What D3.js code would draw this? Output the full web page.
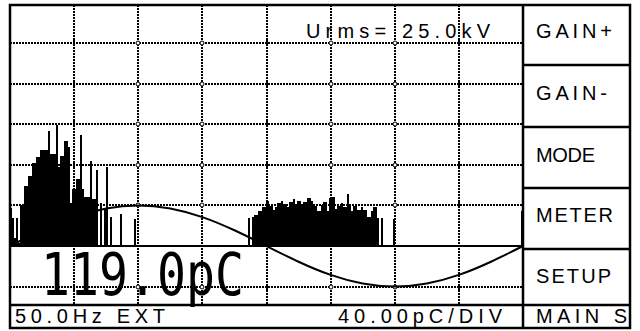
<!DOCTYPE html>
<html>
<head>
<meta charset="utf-8">
<script src="https://cdn.jsdelivr.net/npm/d3@7"></script>
<style>
  html, body { margin: 0; padding: 0; background: #fff; }
  svg { display: block; }
  text { font-family: "Liberation Sans", Arial, sans-serif; fill: #000; }
</style>
</head>
<body>
<svg id="scope" width="640" height="331"></svg>
<script>
// Phase-resolved partial discharge display: 256 phase bins over one 360° cycle.
const binCount = 256;

// Pulse magnitudes (pC) per phase bin, first cluster starting at bin 0
const clusterAStart = 0;
const clusterA = [37, 28, 8, 28, 3, 40, 40, 59, 59, 69, 69, 82, 82, 88, 88, 95,
  95, 95, 95, 113, 91, 91, 91, 119.0, 78, 89, 89, 103, 103, 98, 42, 56,
  56, 66, 66, 109, 56, 48, 48, 48, 84, 46, 46, 75, 0, 42, 0, 37,
  78, 0, 29, 0, 0, 0, 0, 32, 0, 0, 0, 0, 0, 0, 27];

// Second cluster (negative half-cycle), starting at bin 119
const clusterBStart = 119;
const clusterB = [28, 0, 29, 31, 31, 34, 34, 38, 38, 44, 39, 39, 35, 38, 42, 42,
  44, 41, 41, 38, 43, 43, 46, 39, 44, 44, 40, 43, 43, 47, 47, 44,
  39, 39, 34, 34, 40, 43, 43, 34, 47, 48, 48, 36, 39, 39, 42, 38,
  38, 51, 39, 34, 39, 39, 35, 35, 38, 35, 35, 29, 29, 34, 38, 38,
  28, 0, 28, 0, 0, 0, 0, 0, 27];

// Isolated pulse at the end of the cycle
const edgeBins = [255];
const edgeValues = [34];

// Reference voltage trace, sampled every 22.5° (in display pC units, 1 div = 40)
const sinePhases = d3.range(0, 360.1, 22.5);
const sineValues = [0, 15.5, 28.5, 37, 40, 37, 28.5, 15.5, 0,
  -15.5, -28.5, -37, -40, -37, -28.5, -15.5, 0];

// Grid divisions
const phaseGrid = [45, 90, 135, 180, 225, 270, 315];
const phaseMarks = ["tick", "ring", "ring", "tick", "ring", "ring", "tick"];
const chargeGrid = [200, 160, 120, 80, 40, -40];

// Readouts and soft keys
const peakReadout = "119.0pC";
const voltageReadout = "Urms= 25.0kV";
const freqReadout = "50.0Hz EXT";
const scaleReadout = "40.00pC/DIV";
const menuKeys = ["GAIN+", "GAIN-", "MODE", "METER", "SETUP", "MAIN S"];

// ---- layout ----
const L = 10, T = 5, R = 630, B = 328;
const plotRight = 523;
const statusTop = 305;
const keyRows = [T, 65, 127, 188, 249, statusTop, B];

const svg = d3.select("#scope");

const x = d3.scaleLinear().domain([0, 360]).range([L, plotRight]);
const y = d3.scaleLinear().domain([0, 240]).range([246, 2.4]);
const binW = 360 / binCount;

// collect bins
const bins = [];
clusterA.forEach((v, i) => bins.push({ bin: clusterAStart + i, pc: v }));
clusterB.forEach((v, i) => bins.push({ bin: clusterBStart + i, pc: v }));
edgeBins.forEach((b, i) => bins.push({ bin: b, pc: edgeValues[i] }));

svg.append("rect").attr("width", 640).attr("height", 331).attr("fill", "#fff");

// dotted grid
const grid = svg.append("g")
  .attr("stroke", "#000").attr("stroke-width", 2)
  .attr("stroke-dasharray", "2,1").attr("shape-rendering", "crispEdges");

grid.selectAll("line.v").data(phaseGrid).join("line")
  .attr("class", "v")
  .attr("x1", d => Math.round(x(d))).attr("x2", d => Math.round(x(d)))
  .attr("y1", T).attr("y2", statusTop);

grid.selectAll("line.h").data(chargeGrid).join("line")
  .attr("class", "h")
  .attr("x1", L).attr("x2", plotRight)
  .attr("y1", d => Math.round(y(d))).attr("y2", d => Math.round(y(d)));

// intersection markers
const marks = svg.append("g");
phaseGrid.forEach((p, i) => {
  chargeGrid.forEach(c => {
    const cx = Math.round(x(p)), cy = Math.round(y(c));
    if (phaseMarks[i] === "tick") {
      marks.append("line")
        .attr("x1", cx).attr("x2", cx).attr("y1", cy - 3).attr("y2", cy + 3)
        .attr("stroke", "#000").attr("stroke-width", 2)
        .attr("shape-rendering", "crispEdges");
    } else {
      marks.append("circle")
        .attr("cx", cx).attr("cy", cy).attr("r", 2)
        .attr("fill", "#fff").attr("stroke", "#000").attr("stroke-width", 1);
    }
  });
});

// zero line
svg.append("line")
  .attr("x1", L).attr("x2", plotRight)
  .attr("y1", y(0)).attr("y2", y(0))
  .attr("stroke", "#000").attr("stroke-width", 2);

// pulse bars, snapped to whole pixels so adjacent bins join up
const bx0 = d => Math.round(x(d.bin * binW));
const bx1 = d => Math.round(x((d.bin + 1) * binW));
svg.append("g").attr("shape-rendering", "crispEdges")
  .selectAll("rect").data(bins.filter(d => d.pc > 0)).join("rect")
  .attr("x", bx0)
  .attr("width", d => bx1(d) - bx0(d))
  .attr("y", d => Math.round(y(d.pc)))
  .attr("height", d => Math.round(y(0)) - Math.round(y(d.pc)))
  .attr("fill", "#000");

// reference sine
const sineLine = d3.line()
  .x((d, i) => x(sinePhases[i]))
  .y(d => y(d))
  .curve(d3.curveNatural);

svg.append("path")
  .attr("d", sineLine(sineValues))
  .attr("fill", "none").attr("stroke", "#000").attr("stroke-width", 2);

// status bar background
svg.append("rect")
  .attr("x", L).attr("y", statusTop).attr("width", R - L).attr("height", B - statusTop)
  .attr("fill", "#fff");

// peak readout
svg.append("text")
  .attr("x", 41).attr("y", 295)
  .attr("textLength", 203).attr("lengthAdjust", "spacingAndGlyphs")
  .style("font-family", "'DejaVu Sans Mono', monospace")
  .style("font-size", "58px")
  .text(peakReadout);

// voltage readout
svg.append("text")
  .attr("x", 306).attr("y", 38)
  .attr("textLength", 184).attr("lengthAdjust", "spacing")
  .style("font-size", "20px")
  .text(voltageReadout);

// status texts
svg.append("text")
  .attr("x", 15).attr("y", 323)
  .attr("textLength", 150).attr("lengthAdjust", "spacing")
  .style("font-size", "20px")
  .text(freqReadout);

svg.append("text")
  .attr("x", 338).attr("y", 323)
  .attr("textLength", 164).attr("lengthAdjust", "spacing")
  .style("font-size", "20px")
  .text(scaleReadout);

// soft keys
const keyBaselines = [38, 100, 162, 222, 283, 323];
const keyWidths = [76, 71, 59, 77, 75, 91];
svg.append("g").selectAll("text").data(menuKeys).join("text")
  .attr("x", 536)
  .attr("y", (d, i) => keyBaselines[i])
  .attr("textLength", (d, i) => keyWidths[i])
  .attr("lengthAdjust", "spacing")
  .style("font-size", "20px")
  .text(d => d);

// frame and key dividers
const frame = svg.append("g")
  .attr("stroke", "#000").attr("stroke-width", 2.5).attr("fill", "none");

frame.append("rect")
  .attr("x", L).attr("y", T).attr("width", R - L).attr("height", B - T);

frame.append("line")
  .attr("x1", plotRight).attr("x2", plotRight).attr("y1", T).attr("y2", B);

frame.selectAll("line.k").data(keyRows.slice(1, -2)).join("line")
  .attr("class", "k")
  .attr("x1", plotRight).attr("x2", R)
  .attr("y1", d => d).attr("y2", d => d);

frame.append("line")
  .attr("x1", L).attr("x2", R)
  .attr("y1", statusTop).attr("y2", statusTop);
</script>
</body>
</html>
